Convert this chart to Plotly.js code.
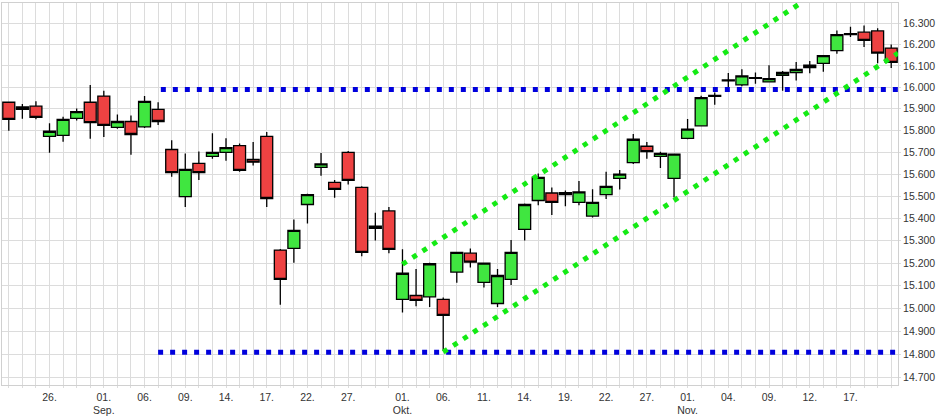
<!DOCTYPE html>
<html>
<head>
<meta charset="utf-8">
<script src="https://cdn.plot.ly/plotly-3.0.1.min.js"></script>
<style>
  html, body { margin: 0; padding: 0; background: #ffffff; }
  #chart { width: 949px; height: 419px; }
</style>
</head>
<body>
<div id="chart"></div>
<script>
// Trading days (2021)
const dates = [
  '2021-08-23','2021-08-24','2021-08-25','2021-08-26','2021-08-27',
  '2021-08-30','2021-08-31','2021-09-01','2021-09-02','2021-09-03',
  '2021-09-06','2021-09-07','2021-09-08','2021-09-09','2021-09-10',
  '2021-09-13','2021-09-14','2021-09-15','2021-09-16','2021-09-17',
  '2021-09-20','2021-09-21','2021-09-22','2021-09-23','2021-09-24',
  '2021-09-27','2021-09-28','2021-09-29','2021-09-30','2021-10-01',
  '2021-10-04','2021-10-05','2021-10-06','2021-10-07','2021-10-08',
  '2021-10-11','2021-10-12','2021-10-13','2021-10-14','2021-10-15',
  '2021-10-18','2021-10-19','2021-10-20','2021-10-21','2021-10-22',
  '2021-10-25','2021-10-26','2021-10-27','2021-10-28','2021-10-29',
  '2021-11-01','2021-11-02','2021-11-03','2021-11-04','2021-11-05',
  '2021-11-08','2021-11-09','2021-11-10','2021-11-11','2021-11-12',
  '2021-11-15','2021-11-16','2021-11-17','2021-11-18','2021-11-19',
  '2021-11-22'
];

const openV = [
  15930,15897,15912,15772,15777, 15855,15930,15959,15814,15841,
  15816,15897,15712,15498,15649, 15681,15699,15730,15667,15772,
  15258,15265,15462,15630,15562, 15699,15539,15355,15433,15040,
  15057,15051,15040,15160,15244, 15115,15022,15128,15350,15480,
  15514,15507,15472,15410,15507, 15580,15652,15727,15681,15580,
  15763,15821,15958,16030,16011, 16045,16025,16056,16069,16103,
  16112,16172,16252,16259,16265, 16184
];
const highV = [
  15933,15922,15935,15833,15863, 15901,16010,15984,15873,15869,
  15959,15930,15755,15694,15703, 15787,15764,15739,15746,15792,
  15263,15395,15511,15696,15573, 15705,15544,15425,15451,15261,
  15174,15202,15048,15250,15265, 15203,15174,15303,15466,15603,
  15539,15525,15568,15531,15610, 15618,15783,15746,15702,15693,
  15852,15960,15975,16066,16084, 16069,16103,16076,16118,16123,
  16150,16267,16285,16291,16278, 16201
];
const lowV = [
  15798,15854,15851,15697,15748, 15845,15761,15770,15807,15688,
  15811,15825,15588,15451,15573, 15670,15661,15610,15639,15451,
  15016,15202,15377,15592,15492, 15553,15230,15300,15244,14982,
  15010,15007,14816,15113,15180, 15092,15007,15103,15300,15459,
  15415,15454,15459,15403,15487, 15530,15646,15670,15628,15494,
  15759,15819,15919,15999,16005, 16016,16023,15984,16031,16065,
  16072,16157,16236,16189,16112, 16090
];
const closeV = [
  15851,15908,15860,15796,15851, 15887,15836,15823,15841,15781,
  15934,15841,15606,15621,15606, 15699,15721,15617,15654,15489,
  15128,15346,15507,15646,15530, 15571,15248,15365,15261,15155,
  15036,15197,14970,15248,15204, 15200,15145,15248,15462,15585,
  15472,15516,15519,15472,15544, 15600,15759,15702,15694,15691,
  15806,15952,15962,16034,16053, 16041,16040,16069,16084,16092,
  16148,16247,16248,16220,16160, 16116
];

// Axis labels (German)
const tickDates  = ['2021-08-26','2021-09-01','2021-09-06','2021-09-09','2021-09-14','2021-09-17','2021-09-22','2021-09-27',
                    '2021-10-01','2021-10-06','2021-10-11','2021-10-14','2021-10-19','2021-10-22','2021-10-27',
                    '2021-11-01','2021-11-04','2021-11-09','2021-11-12','2021-11-17'];
const tickLabels = ['26.','01.<br>Sep.','06.','09.','14.','17.','22.','27.',
                    '01.<br>Okt.','06.','11.','14.','19.','22.','27.',
                    '01.<br>Nov.','04.','09.','12.','17.'];

// Horizontal support / resistance levels (value, start index on the trading-day axis)
const levelValues = [15990, 14810];
const levelStart  = [11.2, 11.0];

// Trend channel (index on trading-day axis, value)
const channelLowerX = [32, 65.5];
const channelLowerY = [14810, 16160];
const channelUpperX = [29, 65.5];
const channelUpperY = [15195, 16706];

// Value axis range (logarithmic)
const yMin = 14669, yMax = 16398;

const tickText = dates.map(d => {
  const k = tickDates.indexOf(d);
  return k >= 0 ? tickLabels[k] : '';
});

const axisFont = { family: 'Liberation Sans, Arial, sans-serif', size: 10.5, color: '#333333' };

const trace = {
  type: 'candlestick',
  x: dates,
  open: openV, high: highV, low: lowV, close: closeV,
  increasing: { fillcolor: '#40e640', line: { color: '#000000', width: 1.3 } },
  decreasing: { fillcolor: '#ee4242', line: { color: '#000000', width: 1.3 } },
  whiskerwidth: 0,
  hoverinfo: 'none',
  showlegend: false
};

const shapes = [];
levelValues.forEach((v, k) => {
  shapes.push({
    type: 'line', xref: 'x', yref: 'y', layer: 'above',
    x0: levelStart[k], x1: dates.length - 0.5, y0: v, y1: v,
    line: { color: '#0000dd', width: 5, dash: '5px,7px' }
  });
});
[[channelLowerX, channelLowerY], [channelUpperX, channelUpperY]].forEach(([cx, cy]) => {
  shapes.push({
    type: 'line', xref: 'x', yref: 'y', layer: 'above',
    x0: cx[0], x1: cx[1], y0: cy[0], y1: cy[1],
    line: { color: '#14ea14', width: 5, dash: '5px,7px' }
  });
});

const layout = {
  width: 949, height: 419,
  margin: { l: 2, r: 51, t: 3, b: 34, pad: 0 },
  paper_bgcolor: '#ffffff', plot_bgcolor: '#ffffff',
  separators: ',.',
  showlegend: false,
  boxgap: 0.12, boxgroupgap: 0,
  xaxis: {
    type: 'category',
    range: [-0.5, dates.length - 0.5],
    tickmode: 'array', tickvals: dates, ticktext: tickText,
    showgrid: true, gridcolor: '#dcdcdc', gridwidth: 1,
    showline: true, mirror: true, linecolor: '#d0d0d0', linewidth: 1,
    ticks: 'outside', ticklen: 2, tickcolor: '#dcdcdc',
    tickfont: axisFont, tickangle: 0,
    rangeslider: { visible: false },
    fixedrange: true, zeroline: false
  },
  yaxis: {
    type: 'log',
    side: 'right',
    range: [Math.log10(yMin), Math.log10(yMax)],
    tick0: 0, dtick: 'L100', tickformat: ',d',
    showgrid: true, gridcolor: '#dcdcdc', gridwidth: 1,
    showline: true, mirror: true, linecolor: '#d0d0d0', linewidth: 1,
    ticks: 'outside', ticklen: 2, tickcolor: '#dcdcdc',
    tickfont: axisFont,
    fixedrange: true, zeroline: false
  },
  shapes: shapes
};

Plotly.newPlot('chart', [trace], layout, { staticPlot: true, displayModeBar: false });
</script>
</body>
</html>
